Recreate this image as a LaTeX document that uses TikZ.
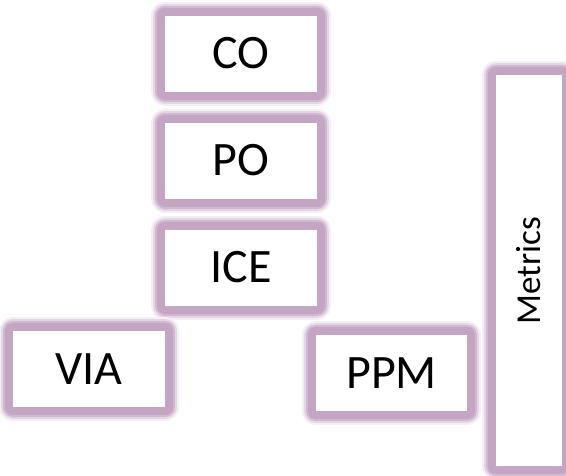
\documentclass[tikz,border=0pt]{standalone}
\usepackage{fontspec}
\setmainfont{Carlito}
\usetikzlibrary{positioning}
\definecolor{glowc}{RGB}{196,166,196}
\tikzset{
    box/.style = {rectangle, fill=white, inner sep=0pt,
        minimum width=152pt, minimum height=76pt,
        font=\fontsize{48}{56}\selectfont,
        preaction={draw=glowc!18, line width=28pt, line join=round},
        preaction={draw=glowc!45, line width=24pt, line join=round},
        preaction={draw=glowc!80, line width=20pt, line join=round},
        preaction={draw=glowc, line width=16pt, line join=round}},
    tallbox/.style = {box, minimum width=66pt, minimum height=391pt,
        font=\fontsize{35}{42}\selectfont}
}

\begin{document}
\begin{tikzpicture}[x=1pt, y=-1pt, node distance=107pt]
    \useasboundingbox (0,0) rectangle (566,475);
    \node [box] (co) at (241,53.5) {CO};
    \node [box, below of=co] (po) {PO};
    \node [box, below of=po] (ice) {ICE};
    \node [box] (via) at (89,369) {VIA};
    \node [box, minimum width=151pt] (ppm) at (391.5,373) {PPM};
    \node [tallbox] (metrics) at (529,270.5) {\rotatebox{90}{Metrics}};
\end{tikzpicture}
\end{document}
